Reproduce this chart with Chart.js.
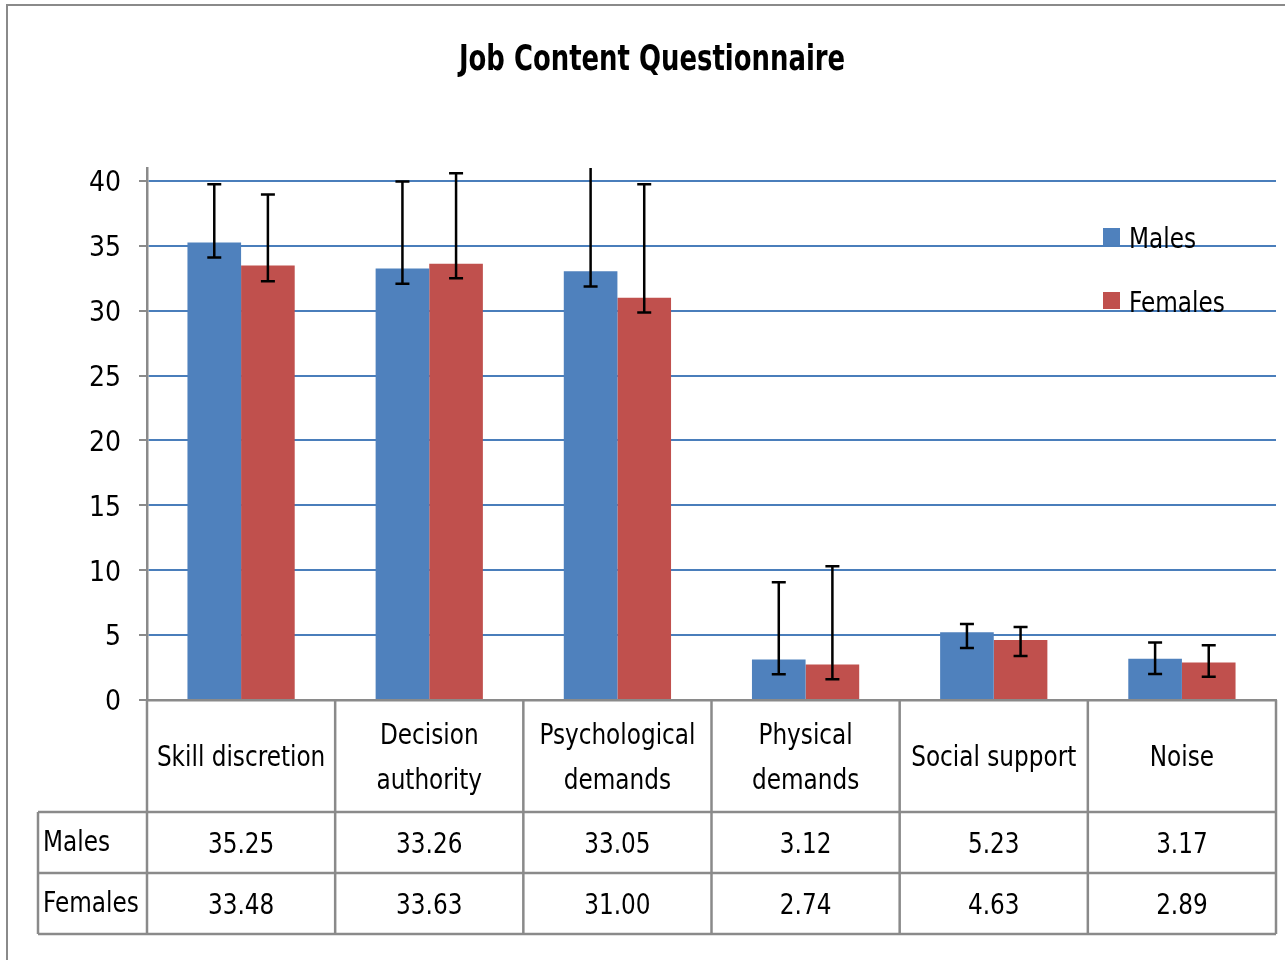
<!DOCTYPE html>
<html>
<head>
<meta charset="utf-8">
<title>Job Content Questionnaire</title>
<script src="https://cdn.jsdelivr.net/npm/chart.js@4.4.0/dist/chart.umd.min.js"></script>
<style>
  html, body { margin: 0; padding: 0; background: #fff; }
  #wrap { width: 1285px; height: 960px; }
</style>
</head>
<body>
<div id="wrap"><canvas id="grafic" width="1285" height="960"></canvas></div>
<script>
// dades llegides del gràfic
const chartTitle = 'Job Content Questionnaire';
const categories = [['Skill discretion'], ['Decision', 'authority'], ['Psychological', 'demands'], ['Physical', 'demands'], ['Social support'], ['Noise']];
const males = [35.25, 33.26, 33.05, 3.12, 5.23, 3.17];
const females = [33.48, 33.63, 31.00, 2.74, 4.63, 2.89];
// barres d'error (asimètriques, estimades de la imatge)
const malesErrPlus = [4.5, 6.7, 9.0, 5.95, 0.63, 1.27];
const malesErrMinus = [1.15, 1.19, 1.18, 1.14, 1.23, 1.17];
const femalesErrPlus = [5.48, 6.97, 8.75, 7.56, 0.99, 1.32];
const femalesErrMinus = [1.2, 1.13, 1.13, 1.15, 1.24, 1.09];
const yTicks = [0, 5, 10, 15, 20, 25, 30, 35, 40];

const FONT = "'DejaVu Sans Condensed', 'Liberation Sans Narrow', 'Roboto Condensed', sans-serif";
const BLUE = '#4f81bd';
const RED = '#c0504d';
const GRAY = '#8a8a8a';
const SX = 0.92; // compressió horitzontal del text (la lletra original és més estreta)

Chart.defaults.font.family = FONT;
Chart.defaults.color = '#000';

// text comprimit horitzontalment
function textEstret(ctx, t, x, y, sx) {
    ctx.save();
    ctx.translate(x, y);
    ctx.scale(sx, 1);
    ctx.fillText(t, 0, 0);
    ctx.restore();
}

// fons blanc, marc exterior i títol
const fons = {
    id: 'fons',
    beforeDraw(chart) {
        const ctx = chart.ctx;
        ctx.save();
        ctx.fillStyle = '#fff';
        ctx.fillRect(0, 0, chart.width, chart.height);
        ctx.strokeStyle = GRAY;
        ctx.lineWidth = 2;
        ctx.beginPath();
        ctx.moveTo(7, chart.height);
        ctx.lineTo(7, 5);
        ctx.lineTo(chart.width, 5);
        ctx.stroke();
        ctx.fillStyle = '#000';
        ctx.font = 'bold 36px ' + FONT;
        ctx.textAlign = 'center';
        ctx.textBaseline = 'middle';
        textEstret(ctx, chartTitle, 652, 61, 0.8);
        ctx.restore();
    }
};

// barres d'error
const barresError = {
    id: 'barresError',
    afterDatasetsDraw(chart) {
        const ctx = chart.ctx;
        const y = chart.scales.y;
        const a = chart.chartArea;
        const errs = [[malesErrPlus, malesErrMinus], [femalesErrPlus, femalesErrMinus]];
        ctx.save();
        ctx.beginPath();
        ctx.rect(a.left, a.top, a.right - a.left, a.bottom - a.top);
        ctx.clip();
        ctx.strokeStyle = '#000';
        ctx.lineWidth = 2.5;
        chart.data.datasets.forEach((ds, i) => {
            const meta = chart.getDatasetMeta(i);
            meta.data.forEach((bar, j) => {
                const v = ds.data[j];
                const top = y.getPixelForValue(v + errs[i][0][j]);
                const bot = y.getPixelForValue(v - errs[i][1][j]);
                ctx.beginPath();
                ctx.moveTo(bar.x, top);
                ctx.lineTo(bar.x, bot);
                ctx.moveTo(bar.x - 7, top);
                ctx.lineTo(bar.x + 7, top);
                ctx.moveTo(bar.x - 7, bot);
                ctx.lineTo(bar.x + 7, bot);
                ctx.stroke();
            });
        });
        ctx.restore();
    }
};

// llegenda dins l'àrea del gràfic
const llegenda = {
    id: 'llegenda',
    afterDraw(chart) {
        const ctx = chart.ctx;
        ctx.save();
        ctx.font = '28px ' + FONT;
        ctx.textBaseline = 'alphabetic';
        ctx.textAlign = 'left';
        chart.data.datasets.forEach((ds, i) => {
            const yy = 228 + i * 64;
            ctx.fillStyle = ds.backgroundColor;
            ctx.fillRect(1103, yy, 17, 17);
            ctx.fillStyle = '#000';
            textEstret(ctx, ds.label, 1129, yy + 20, 0.92);
        });
        ctx.restore();
    }
};

// taula de dades sota l'eix X
const taula = {
    id: 'taula',
    afterDraw(chart) {
        const ctx = chart.ctx;
        const a = chart.chartArea;
        const n = categories.length;
        const colW = (a.right - a.left) / n;
        const r0 = a.bottom, r1 = a.bottom + 112, r2 = a.bottom + 173, r3 = a.bottom + 234;
        const leftLab = 38;
        ctx.save();
        ctx.strokeStyle = GRAY;
        ctx.lineWidth = 2.5;
        ctx.beginPath();
        for (let i = 0; i <= n; i++) {
            const x = a.left + i * colW;
            ctx.moveTo(x, r0);
            ctx.lineTo(x, r3);
        }
        [r1, r2, r3].forEach(r => {
            ctx.moveTo(leftLab, r);
            ctx.lineTo(a.right, r);
        });
        ctx.moveTo(leftLab, r1);
        ctx.lineTo(leftLab, r3);
        ctx.stroke();

        ctx.fillStyle = '#000';
        ctx.font = '28px ' + FONT;
        ctx.textBaseline = 'middle';
        ctx.textAlign = 'center';
        const midH = (r0 + r1) / 2 + 3;
        categories.forEach((lines, i) => {
            const cx = a.left + (i + 0.5) * colW;
            const lh = 45;
            lines.forEach((t, k) => {
                textEstret(ctx, t, cx, midH + (k - (lines.length - 1) / 2) * lh, SX);
            });
            textEstret(ctx, males[i].toFixed(2), cx, (r1 + r2) / 2 + 3, SX);
            textEstret(ctx, females[i].toFixed(2), cx, (r2 + r3) / 2 + 3, SX);
        });
        ctx.textAlign = 'left';
        textEstret(ctx, 'Males', leftLab + 5, (r1 + r2) / 2 + 1, SX);
        textEstret(ctx, 'Females', leftLab + 5, (r2 + r3) / 2 + 1, SX);
        ctx.restore();
    }
};

new Chart(document.getElementById('grafic'), {
    type: 'bar',
    data: {
        labels: categories,
        datasets: [
            { label: 'Males', data: males, backgroundColor: BLUE, borderWidth: 0 },
            { label: 'Females', data: females, backgroundColor: RED, borderWidth: 0 }
        ]
    },
    options: {
        responsive: false,
        animation: false,
        devicePixelRatio: 1,
        categoryPercentage: 0.57,
        barPercentage: 1.0,
        layout: { padding: { left: 0, right: 9, top: 168, bottom: 0 } },
        plugins: {
            legend: { display: false },
            tooltip: { enabled: false },
            title: { display: false }
        },
        scales: {
            x: {
                ticks: { display: false },
                grid: { display: false },
                border: { color: GRAY, width: 2.5 },
                afterFit: s => { s.height = 260; }
            },
            y: {
                min: 0,
                max: 41,
                afterBuildTicks: s => { s.ticks = yTicks.map(v => ({ value: v })); },
                afterFit: s => { s.width = 147; },
                ticks: { font: { size: 28 }, color: '#000', padding: 18, labelOffset: 3 },
                grid: {
                    color: c => (c.tick && c.tick.value === 0) ? 'rgba(0,0,0,0)' : '#4a7ebb',
                    lineWidth: 2,
                    tickColor: GRAY,
                    tickLength: 8
                },
                border: { color: GRAY, width: 2.5 }
            }
        }
    },
    plugins: [fons, barresError, llegenda, taula]
});
</script>
</body>
</html>
